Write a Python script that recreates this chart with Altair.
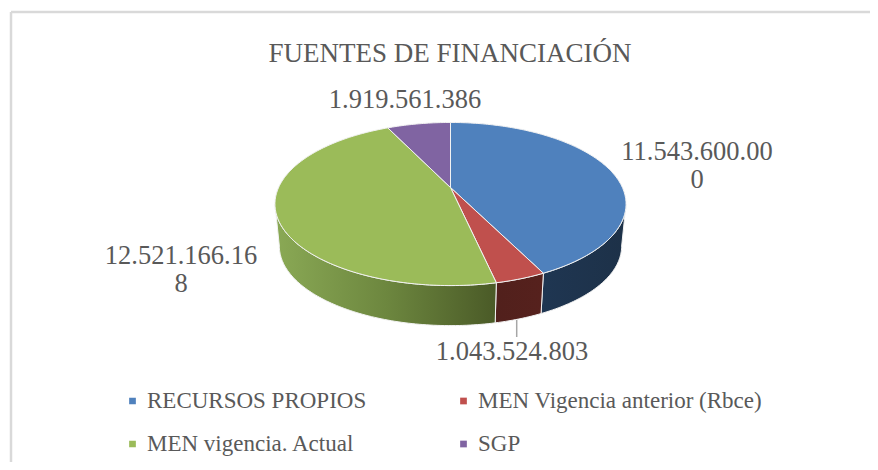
import math
import textwrap
import altair as alt
import pandas as pd

categories = ["RECURSOS PROPIOS", "MEN Vigencia anterior (Rbce)", "MEN vigencia. Actual", "SGP"]
values = [11543600000, 1043524803, 12521166168, 1919561386]
colors = ["#4f81bd", "#c0504d", "#9bbb59", "#8064a2"]
title_text = "FUENTES DE FINANCIACIÓN"
FONT = "Liberation Serif"
TEXT = "#595959"

W, H = 862, 454
OX, OY = 8, 8
AX, AY = 450.5, 187.5   # apex of the pie on the page
K = 0.2025              # perspective of the tilted disc
C, A = 171.9, 78.2
DROP, SHRINK = 42.5, 0.975


def project(deg, wall=False):
    t = math.radians(deg)
    w = 1 + K * math.cos(t)
    x, y = C * math.sin(t) / w, -A * math.cos(t) / w
    if wall:
        x, y, d = x * SHRINK, y * SHRINK, DROP
    else:
        d = 0
    return [AX + x - OX, AY + d + y - OY]


def arc_angles(a, b):
    n = max(2, int(abs(b - a)) + 1)
    return [a + (b - a) * i / n for i in range(n + 1)]


total = sum(values)
edges = [0.0]
for v in values:
    edges.append(edges[-1] + v / total * 360)

top_features, wall_features = [], {}
VIS_A, VIS_B = math.degrees(math.acos(-K)), 360 - math.degrees(math.acos(-K))
for i, name in enumerate(categories):
    a, b = edges[i], edges[i + 1]
    ring = [project(d) for d in arc_angles(a, b)] + [[AX - OX, AY - OY]]
    ring.append(ring[0])
    top_features.append({"type": "Feature", "properties": {"name": name},
                         "geometry": {"type": "Polygon", "coordinates": [ring]}})
    lo, hi = max(a, VIS_A), min(b, VIS_B)
    if hi > lo:
        angs = arc_angles(lo, hi)
        ring = [project(d) for d in angs] + [project(d, True) for d in reversed(angs)]
        ring.append(ring[0])
        wall_features[name] = [{"type": "Feature", "properties": {"name": name},
                                "geometry": {"type": "Polygon", "coordinates": [ring]}}]

proj = dict(type="identity", scale=1, translate=[0, 0])


def wall_layer(name, stops):
    return alt.Chart(alt.Data(values=wall_features[name])).mark_geoshape(
        fill=alt.Gradient(gradient="linear", x1=0, x2=1, y1=0, y2=0,
                          stops=[alt.GradientStop(color=c, offset=o) for o, c in stops]),
        stroke="#f2f2f2", strokeWidth=1,
    ).project(**proj)


walls = [
    wall_layer(categories[0], [(0, "#1f3652"), (1, "#1d3148")]),
    wall_layer(categories[1], [(0, "#51201c"), (1, "#56211d")]),
    wall_layer(categories[2], [(0, "#8aa955"), (0.5, "#6d873f"), (1, "#4a5a27")]),
]

tops = alt.Chart(alt.Data(values=top_features)).mark_geoshape(
    stroke="#f2f2f2", strokeWidth=1,
).encode(
    color=alt.Color(
        "properties.name:N",
        scale=alt.Scale(domain=categories, range=colors),
        sort=categories,
        legend=alt.Legend(
            title=None, orient="none", legendX=113, legendY=380, columns=2,
            direction="horizontal",
            symbolType="square", symbolSize=45, symbolStrokeWidth=0, symbolOffset=0,
            labelFont=FONT, labelFontSize=23, labelColor=TEXT, labelOffset=3,
            labelLimit=400, rowPadding=17, columnPadding=85,
            clipHeight=26,
        ),
    )
).project(**proj)

scale_x = alt.Scale(domain=[0, W], range=[0, W])
scale_y = alt.Scale(domain=[0, H], range=[0, H])

# readable data labels, wrapped the way the source wraps them
label_xy = [(697, 152), (512, 352), (181, 256), (405, 100)]
labels = pd.DataFrame({
    "txt": [textwrap.fill(f"{v:,}".replace(",", "."), 13) for v in values],
    "lx": [p[0] - OX for p in label_xy],
    "ly": [p[1] - OY for p in label_xy],
})
text_layer = alt.Chart(labels).mark_text(
    font=FONT, fontSize=26.5, color=TEXT, lineBreak="\n", lineHeight=28, align="center", baseline="middle",
).encode(
    x=alt.X("lx:Q", scale=scale_x, axis=None),
    y=alt.Y("ly:Q", scale=scale_y, axis=None),
    text="txt:N",
)

leader = alt.Chart(pd.DataFrame({"x": [516.7 - OX], "y": [320 - OY], "y2": [337 - OY]})).mark_rule(
    color="#a6a6a6", strokeWidth=1.5,
).encode(
    x=alt.X("x:Q", scale=scale_x, axis=None),
    y=alt.Y("y:Q", scale=scale_y, axis=None),
    y2="y2:Q",
)

frame_h = alt.Chart(pd.DataFrame({"x": [11 - OX], "x2": [W], "y": [12 - OY]})).mark_rule(
    color="#d9d9d9", strokeWidth=2.5,
).encode(
    x=alt.X("x:Q", scale=scale_x, axis=None), x2="x2:Q",
    y=alt.Y("y:Q", scale=scale_y, axis=None),
)
frame_v = alt.Chart(pd.DataFrame({"x": [11 - OX], "y": [12 - OY], "y2": [H]})).mark_rule(
    color="#d9d9d9", strokeWidth=2.5,
).encode(
    x=alt.X("x:Q", scale=scale_x, axis=None),
    y=alt.Y("y:Q", scale=scale_y, axis=None), y2="y2:Q",
)

chart = alt.layer(frame_h, frame_v, *walls, tops, leader, text_layer).properties(
    width=W, height=H, padding=0,
    autosize=alt.AutoSizeParams(type="none"),
    title=alt.TitleParams(
        title_text, font=FONT, fontSize=27, fontWeight="normal", color=TEXT,
        anchor="middle", frame="group", offset=-60, dx=11,
    ),
    background="white",
).configure_view(stroke=None)

chart.save("out.html", embed_options={"renderer": "svg", "actions": False})
